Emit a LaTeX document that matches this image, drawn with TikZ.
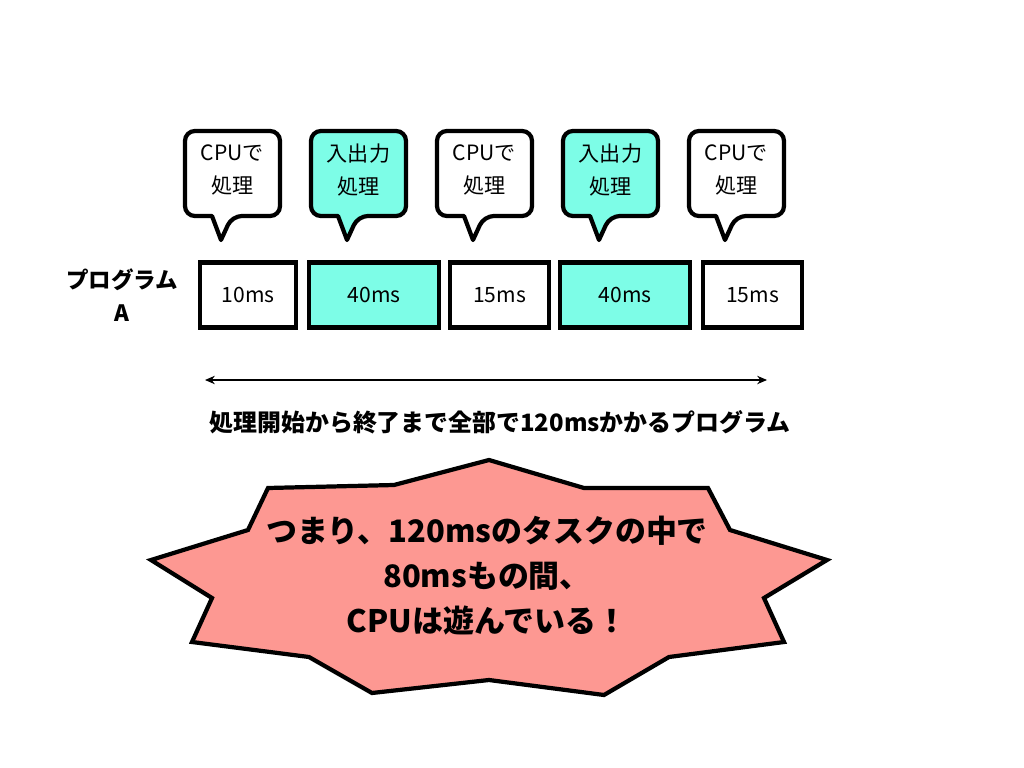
\documentclass[tikz,border=0pt]{standalone}
\usepackage{fontspec}
\setmainfont{Noto Sans CJK JP}
\usetikzlibrary{positioning,arrows.meta}
\definecolor{iocyan}{HTML}{7DFDE7}
\definecolor{starred}{HTML}{FD9892}
\begin{document}
\begin{tikzpicture}[
		x=0.025cm, y=-0.025cm,
		box/.style = {draw, line width=3pt, minimum height=65*0.025cm, inner sep=0pt, font=\fontsize{15}{16}\selectfont},
		io/.style = {box, fill=iocyan},
		bubble/.style = {draw, line width=3pt, rounded corners=7pt, line join=round},
		btext/.style = {align=center, font=\fontsize{15}{23}\selectfont},
		bold/.style = {font=\bfseries\fontsize{16}{23}\selectfont, align=center}
	]
	\useasboundingbox (0,0) rectangle (1024,768);
	% time slices
	\node[box, minimum width=96*0.025cm] (t1) at (248,295) {10ms};
	\node[io, minimum width=130*0.025cm] (t2) at (374,295) {40ms};
	\node[box, minimum width=99*0.025cm] (t3) at (499.5,295) {15ms};
	\node[io, minimum width=130*0.025cm] (t4) at (625,295) {40ms};
	\node[box, minimum width=99*0.025cm] (t5) at (752.5,295) {15ms};
	\node[bold] (prog) at (122,295) {プログラム\\A};
	% callouts
	\foreach \L/\fc/\txt [count=\i] in {185/white/CPUで\\処理, 311/iocyan/入出力\\処理, 437/white/CPUで\\処理, 563/iocyan/入出力\\処理, 689/white/CPUで\\処理}{
		\draw[bubble, fill=\fc] (\L,131) -- (\L+95,131) -- (\L+95,216) -- (\L+47,216)
			[sharp corners] -- (\L+36,240) -- (\L+27,216) [rounded corners=7pt] -- (\L,216) -- cycle;
		\node[btext] (c\i) at (\L+47.5,170) {\txt};
	}
	% overall span
	\coordinate (s0) at (205,380);
	\coordinate (s1) at (767,380);
	\draw[{Stealth[length=7pt,width=6pt]}-{Stealth[length=7pt,width=6pt]}, line width=0.9pt] (s0) -- (s1);
	\node[font=\bfseries\fontsize{17}{23}\selectfont] (span) at (500,422) {処理開始から終了まで全部で120msかかるプログラム};
	% star
	\draw[line width=3pt, fill=starred, line join=miter]
		(489,460) -- (584,488) -- (708,488) -- (730,530) -- (827,560) -- (764,598)
		-- (784,642) -- (669,657) -- (604,695) -- (489,680) -- (372,693) -- (309,657)
		-- (192,642) -- (212,598) -- (151,560) -- (248,530) -- (268,488) -- (394,485) -- cycle;
	\node[font=\bfseries\fontsize{22}{32}\selectfont, align=center] (msg) at (487,576)
		{つまり、120msのタスクの中で\\80msもの間、\\CPUは遊んでいる！};
\end{tikzpicture}
\end{document}
